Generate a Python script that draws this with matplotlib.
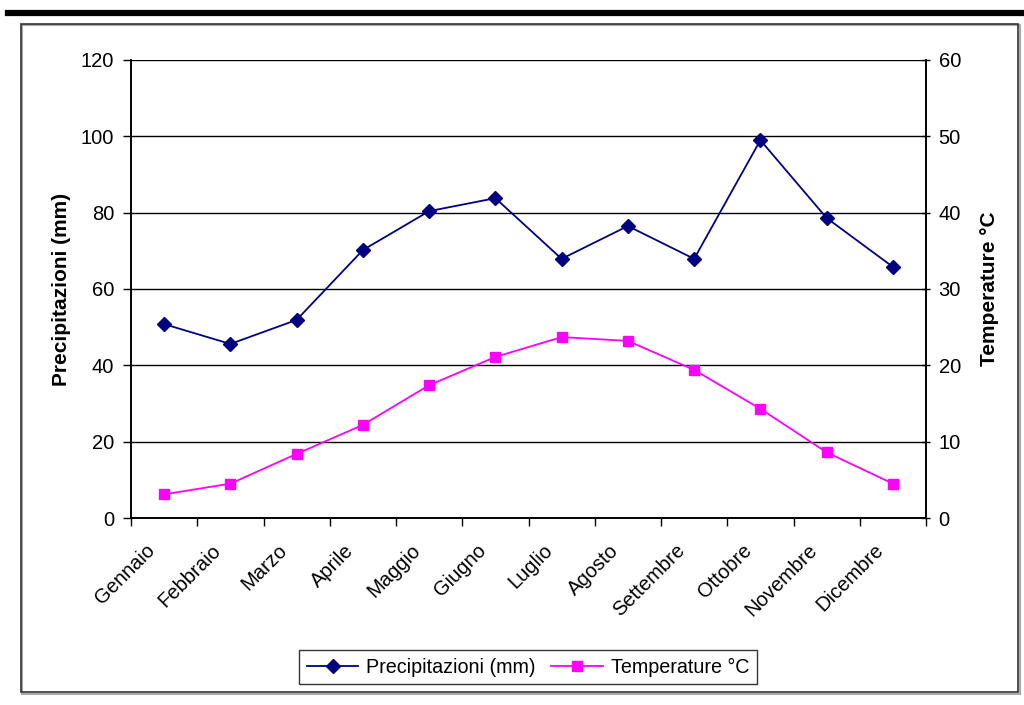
import matplotlib
matplotlib.use("Agg")
import matplotlib.pyplot as plt
from matplotlib.patches import Rectangle
from matplotlib.lines import Line2D
from matplotlib.transforms import ScaledTranslation

plt.rcParams['font.family'] = ['Liberation Sans', 'DejaVu Sans']

months = ["Gennaio", "Febbraio", "Marzo", "Aprile", "Maggio", "Giugno",
          "Luglio", "Agosto", "Settembre", "Ottobre", "Novembre", "Dicembre"]
precip = [50.8, 45.6, 51.9, 70.2, 80.4, 83.8, 67.9, 76.5, 67.9, 99.0, 78.6, 65.8]
temp = [3.1, 4.5, 8.4, 12.2, 17.4, 21.1, 23.7, 23.2, 19.4, 14.3, 8.6, 4.5]
precip_ticks = [0, 20, 40, 60, 80, 100, 120]
temp_ticks = [0, 10, 20, 30, 40, 50, 60]

W, H = 1024, 705
fig = plt.figure(figsize=(W / 100, H / 100), dpi=100)

# top thick line and frame
fig.add_artist(Line2D([8 / W, 1.0], [1 - 12.5 / H, 1 - 12.5 / H], color='black', lw=4.5,
                      transform=fig.transFigure))
fig.add_artist(Rectangle((22 / W, 1 - 694 / H), (998) / W, (669) / H, transform=fig.transFigure,
                         fill=False, edgecolor='#aaaaaa', lw=1.5))
fig.add_artist(Rectangle((21 / W, 1 - 692 / H), (997) / W, (668) / H, transform=fig.transFigure,
                         fill=False, edgecolor='#333333', lw=1.2))

ax = fig.add_axes([131 / W, 1 - 518 / H, (926 - 131) / W, (518 - 60) / H])
ax2 = ax.twinx()

x = list(range(len(months)))
l1, = ax.plot(x, precip, color='#000080', marker='D', markersize=7, lw=1.3,
              label='Precipitazioni (mm)')
l2, = ax2.plot(x, temp, color='#FF00FF', marker='s', markersize=7, lw=1.3,
               label='Temperature °C')

ax.set_xlim(-0.5, len(months) - 0.5)
ax.set_ylim(0, 120)
ax2.set_ylim(0, 60)
ax.set_yticks(precip_ticks)
ax2.set_yticks(temp_ticks)
ax.yaxis.grid(True, color='black', lw=1.0)
ax.set_axisbelow(True)

FS = 14.5
# category boundaries as major ticks, labels as minor ticks at centers
ax.set_xticks([i - 0.5 for i in range(len(months) + 1)])
ax.set_xticklabels([])
ax.set_xticks(x, minor=True)
ax.set_xticklabels(months, minor=True, rotation=45, ha='right', va='center',
                   rotation_mode='anchor', fontsize=FS)
ax.tick_params(axis='x', which='minor', length=0, pad=14)
ax.tick_params(axis='x', which='major', length=6, width=1, direction='out')
ax.tick_params(axis='y', labelsize=FS, length=6, width=1, direction='out', pad=6)
ax2.tick_params(axis='y', labelsize=FS, length=6, width=1, direction='inout', pad=6)
off = ScaledTranslation(-12 / 100, -10 / 100, fig.dpi_scale_trans)
for lab in ax.get_xticklabels(minor=True):
    lab.set_transform(lab.get_transform() + off)

for a in (ax, ax2):
    a.spines['top'].set_visible(False)
    for s in ('left', 'right', 'bottom'):
        a.spines[s].set_linewidth(1.2)

ax.set_ylabel('Precipitazioni (mm)', fontsize=15, fontweight='bold', labelpad=7)
ax2.set_ylabel('Temperature °C', fontsize=15, fontweight='bold', labelpad=14)

leg = fig.legend(handles=[l1, l2], loc='center', bbox_to_anchor=(528 / W, 1 - 667 / H),
                 ncol=2, frameon=True, fancybox=False, fontsize=14.2, handlelength=2.6,
                 columnspacing=0.8, handletextpad=0.4, borderpad=0.4)
leg.get_frame().set_edgecolor('black')
leg.get_frame().set_linewidth(1.0)

fig.savefig('out.png', dpi=100)
